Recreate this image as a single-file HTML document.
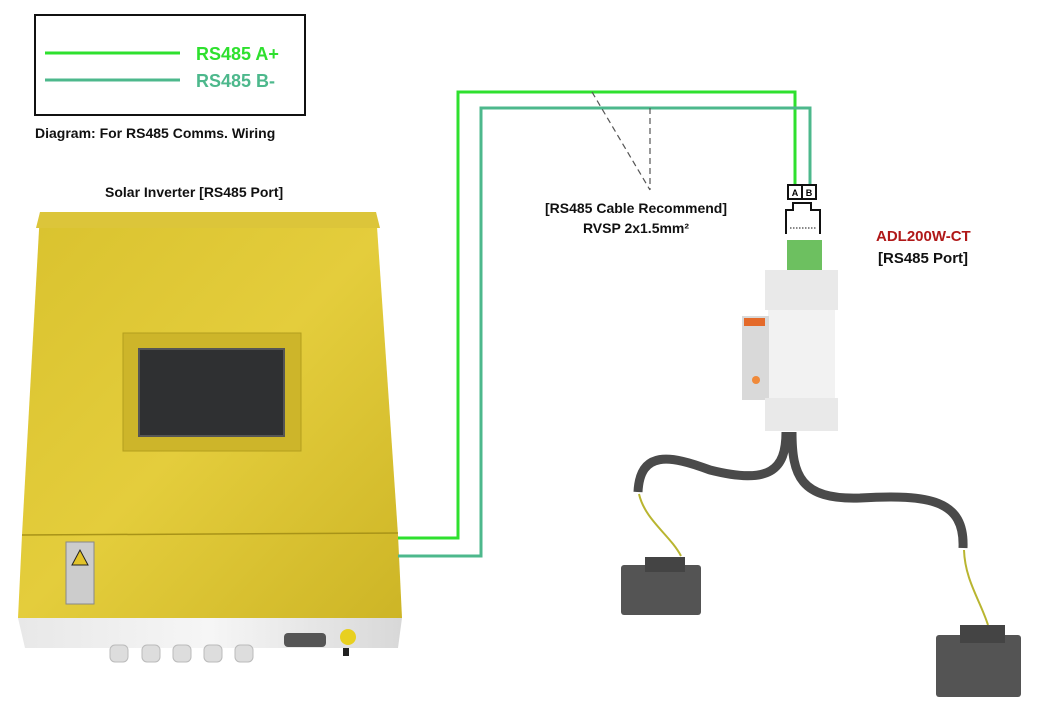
<!DOCTYPE html>
<html><head><meta charset="utf-8"><style>
html,body{margin:0;padding:0;background:#fff;}
svg{display:block;font-family:"Liberation Sans",Arial,sans-serif;}
</style></head><body>
<svg width="1046" height="712" viewBox="0 0 1046 712" xmlns="http://www.w3.org/2000/svg">
<defs>
<linearGradient id="yel" x1="0" y1="0" x2="1" y2="1">
<stop offset="0" stop-color="#d9c22e"/><stop offset="0.5" stop-color="#e4cd3c"/><stop offset="1" stop-color="#cdb526"/>
</linearGradient>
<linearGradient id="wh" x1="0" y1="0" x2="1" y2="0">
<stop offset="0" stop-color="#e8e8e8"/><stop offset="0.5" stop-color="#f6f6f6"/><stop offset="1" stop-color="#d8d8d8"/>
</linearGradient>
</defs>
<rect x="35" y="15" width="270" height="100" fill="#fff" stroke="#111" stroke-width="2"/>
<line x1="45" y1="53" x2="180" y2="53" stroke="#2ee02e" stroke-width="3"/>
<line x1="45" y1="80" x2="180" y2="80" stroke="#4db88c" stroke-width="3"/>
<text x="196" y="60" font-size="18" font-weight="bold" fill="#2ee02e">RS485 A+</text>
<text x="196" y="87" font-size="18" font-weight="bold" fill="#4db88c">RS485 B-</text>
<text x="35" y="138" font-size="14" font-weight="bold" fill="#111">Diagram: For RS485 Comms. Wiring</text>
<text x="105" y="197" font-size="14" font-weight="bold" fill="#111">Solar Inverter [RS485 Port]</text>

<polygon points="18,618 402,618 398,648 25,648" fill="url(#wh)"/>
<polygon points="40,212 376,212 398,535 402,618 18,618 22,535" fill="url(#yel)"/>
<polygon points="40,212 376,212 380,228 36,228" fill="#dcc53a"/>
<line x1="22" y1="535" x2="398" y2="533" stroke="#a89318" stroke-width="1.5"/>
<rect x="123" y="333" width="178" height="118" fill="#cdb52a" stroke="#b39e1e"/>
<rect x="139" y="349" width="145" height="87" fill="#2f3032" stroke="#555" stroke-width="2"/>
<rect x="66" y="542" width="28" height="62" fill="#ccc" stroke="#888"/>
<polygon points="80,550 72,565 88,565" fill="#e2c32a" stroke="#222"/>
<g fill="#ddd" stroke="#bbb">
<rect x="110" y="645" width="18" height="17" rx="5"/><rect x="142" y="645" width="18" height="17" rx="5"/>
<rect x="173" y="645" width="18" height="17" rx="5"/><rect x="204" y="645" width="18" height="17" rx="5"/><rect x="235" y="645" width="18" height="17" rx="5"/>
</g>
<rect x="284" y="633" width="42" height="14" rx="4" fill="#555"/>
<circle cx="348" cy="637" r="8" fill="#e8d020"/>
<rect x="343" y="648" width="6" height="8" fill="#222"/>

<polyline points="398,538 458,538 458,92 795,92 795,186" fill="none" stroke="#2ee02e" stroke-width="3"/>
<polyline points="398,556 481,556 481,108 810,108 810,186" fill="none" stroke="#4db88c" stroke-width="3"/>
<line x1="592" y1="92" x2="650" y2="190" stroke="#555" stroke-width="1.2" stroke-dasharray="6,4"/>
<line x1="650" y1="108" x2="650" y2="190" stroke="#555" stroke-width="1.2" stroke-dasharray="6,4"/>
<text x="636" y="213" font-size="14" font-weight="bold" fill="#111" text-anchor="middle">[RS485 Cable Recommend]</text>
<text x="636" y="233" font-size="14" font-weight="bold" fill="#111" text-anchor="middle">RVSP 2x1.5mm²</text>

<rect x="788" y="185" width="14" height="14" fill="#fff" stroke="#111" stroke-width="2"/>
<rect x="802" y="185" width="14" height="14" fill="#fff" stroke="#111" stroke-width="2"/>
<text x="795" y="196" font-size="9" font-weight="bold" text-anchor="middle">A</text>
<text x="809" y="196" font-size="9" font-weight="bold" text-anchor="middle">B</text>
<polyline points="786,234 786,210 793,210 793,203 811,203 811,210 820,210 820,234" fill="none" stroke="#111" stroke-width="2"/>
<line x1="790" y1="228" x2="816" y2="228" stroke="#111" stroke-width="1" stroke-dasharray="1.5,1.5"/>
<rect x="787" y="240" width="35" height="32" fill="#6dc060"/>
<rect x="765" y="270" width="73" height="40" fill="#e9e9e9"/>
<rect x="768" y="310" width="67" height="88" fill="#f2f2f2"/>
<rect x="742" y="316" width="27" height="84" fill="#d9d9d9"/>
<rect x="744" y="318" width="21" height="8" fill="#e46a2a"/>
<circle cx="756" cy="380" r="4" fill="#f08a3a"/>
<rect x="765" y="398" width="73" height="33" fill="#e9e9e9"/>
<path d="M786,432 C786,470 770,485 710,470 C670,455 640,450 638,492" fill="none" stroke="#4a4a4a" stroke-width="9"/>
<path d="M792,432 C792,475 800,500 860,498 C930,494 965,500 963,548" fill="none" stroke="#4a4a4a" stroke-width="9"/>
<path d="M639,494 C645,520 670,535 681,556" fill="none" stroke="#b9b530" stroke-width="2"/>
<path d="M964,550 C965,580 980,600 988,625" fill="none" stroke="#b9b530" stroke-width="2"/>
<rect x="621" y="565" width="80" height="50" rx="3" fill="#545454"/>
<rect x="645" y="557" width="40" height="15" fill="#444"/>
<rect x="936" y="635" width="85" height="62" rx="3" fill="#545454"/>
<rect x="960" y="625" width="45" height="18" fill="#444"/>

<text x="876" y="241" font-size="15" font-weight="bold" fill="#b01818">ADL200W-CT</text>
<text x="878" y="263" font-size="15" font-weight="bold" fill="#111">[RS485 Port]</text>
</svg>
</body></html>
